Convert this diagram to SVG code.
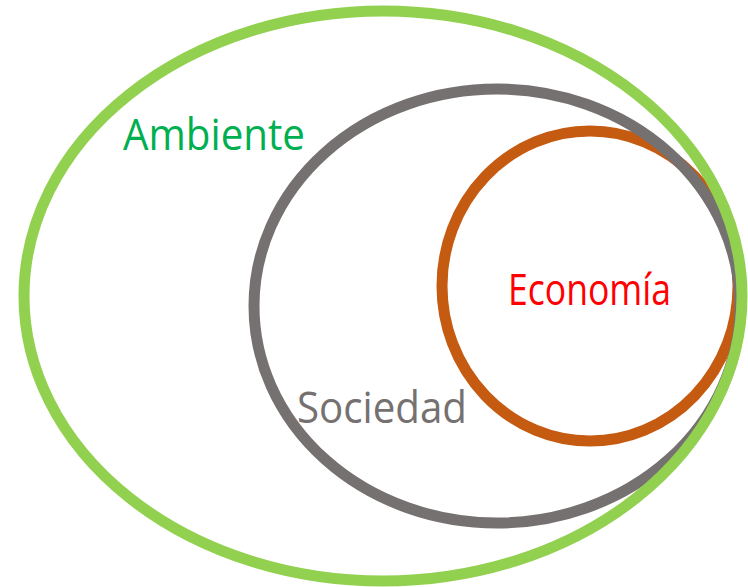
<svg xmlns="http://www.w3.org/2000/svg" width="748" height="587" viewBox="0 0 748 587">
<style>
.ring{fill:none;stroke-width:11}
.lbl{font-family:"Open Sans","Liberation Sans",sans-serif;font-size:43px}
</style>
<rect width="748" height="587" fill="#ffffff"/>
<g id="economia">
<ellipse class="ring" cx="590" cy="286" rx="148" ry="155" stroke="#C55A11"/>
</g>
<g id="sociedad">
<ellipse class="ring" cx="497" cy="306" rx="243" ry="217" stroke="#767171"/>
</g>
<g id="ambiente">
<ellipse class="ring" cx="383" cy="296" rx="359" ry="285" stroke="#92D050"/>
</g>
<g id="labels">
<text class="lbl" x="123" y="150" fill="#00B050" textLength="182" lengthAdjust="spacingAndGlyphs">Ambiente</text>
<text class="lbl" x="297" y="423" fill="#767171" textLength="170" lengthAdjust="spacingAndGlyphs">Sociedad</text>
<text class="lbl" x="508" y="305" fill="#FF0000" textLength="163" lengthAdjust="spacingAndGlyphs">Economía</text>
</g>
<g id="connectors"/>
</svg>
